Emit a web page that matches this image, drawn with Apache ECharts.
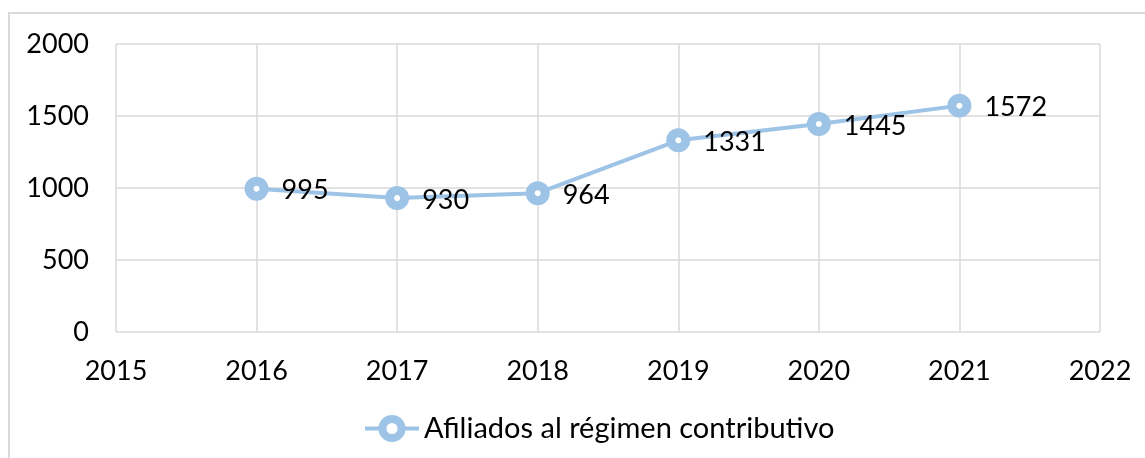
<!DOCTYPE html>
<html>
<head>
<meta charset="utf-8">
<script src="https://cdn.jsdelivr.net/npm/echarts@6/dist/echarts.min.js"></script>
<style>
html, body { margin: 0; padding: 0; background: #fff; overflow: hidden; }
#frame {
  position: absolute; left: 8px; top: 12px;
  width: 1200px; height: 500px;
  border: 2px solid #d9d9d9; box-sizing: border-box;
}
#chart { position: absolute; left: 0; top: 0; width: 1145px; height: 458px; }
</style>
</head>
<body>
<div id="frame"></div>
<div id="chart"></div>
<script>
// datos
var years = [2016, 2017, 2018, 2019, 2020, 2021]
var afiliados = [995, 930, 964, 1331, 1445, 1572]
var serieNombre = 'Afiliados al régimen contributivo'

var points = []
for (var i = 0; i < years.length; i++) {
  points.push([years[i], afiliados[i]])
}

var font = 'Lato, sans-serif'
var myChart = echarts.init(document.getElementById('chart'))
myChart.setOption({
  animation: false,
  grid: { left: 116, right: 45, top: 44, bottom: 126, containLabel: false },
  legend: {
    bottom: 10,
    left: 358,
    itemWidth: 54,
    itemHeight: 24,
    itemGap: 8,
    itemStyle: { borderWidth: 8 },
    lineStyle: { width: 4 },
    textStyle: { fontFamily: font, fontSize: 29, color: '#000' },
    data: [serieNombre]
  },
  xAxis: {
    type: 'value',
    min: 2015,
    max: 2022,
    interval: 1,
    axisLine: { show: false },
    axisTick: { show: false },
    splitLine: { show: true, lineStyle: { color: '#d9d9d9', width: 1.5 } },
    axisLabel: {
      fontFamily: font, fontSize: 27, color: '#000', margin: 26,
      formatter: function (v) { return String(v) }
    }
  },
  yAxis: {
    type: 'value',
    min: 0,
    max: 2000,
    interval: 500,
    axisLine: { show: false },
    axisTick: { show: false },
    splitLine: { show: true, lineStyle: { color: '#d9d9d9', width: 1.5 } },
    axisLabel: {
      fontFamily: font, fontSize: 27, color: '#000', margin: 27,
      formatter: function (v) { return String(v) }
    }
  },
  series: [
    {
      name: serieNombre,
      type: 'line',
      data: points,
      symbol: 'circle',
      symbolSize: 15,
      lineStyle: { color: '#9dc3e6', width: 4 },
      itemStyle: { color: '#fff', borderColor: '#9dc3e6', borderWidth: 9 },
      label: {
        show: true,
        position: 'right',
        distance: 13,
        offset: [0, 2],
        fontFamily: font,
        fontSize: 27,
        color: '#000',
        formatter: function (p) { return p.value[1] }
      }
    }
  ]
})
</script>
</body>
</html>
